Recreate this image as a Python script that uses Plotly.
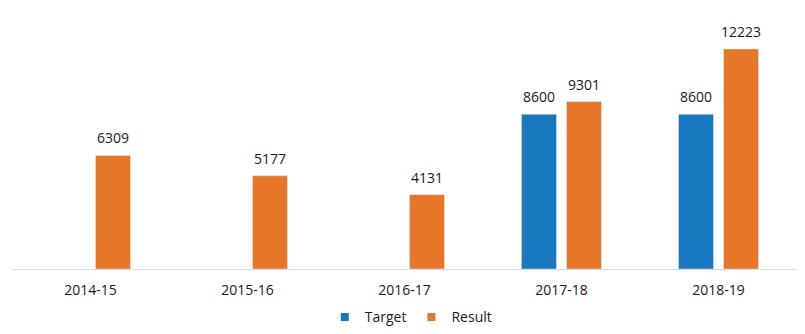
import plotly.graph_objects as go

categories = ["2014-15", "2015-16", "2016-17", "2017-18", "2018-19"]
target = [None, None, None, 8600, 8600]
result = [6309, 5177, 4131, 9301, 12223]

BLUE = "#1878BE"
ORANGE = "#E67628"
FONT = "Open Sans"
TXT = "#1a1a1a"

fig = go.Figure()
fig.add_trace(go.Bar(name="Target", x=categories, y=target, marker_color=BLUE, showlegend=False))
fig.add_trace(go.Bar(name="Result", x=categories, y=result, marker_color=ORANGE, showlegend=False))

# legend proxies with small square markers
fig.add_trace(go.Scatter(name="Target", x=[None], y=[None], mode="markers",
                         marker=dict(symbol="square", size=8, color=BLUE)))
fig.add_trace(go.Scatter(name="Result", x=[None], y=[None], mode="markers",
                         marker=dict(symbol="square", size=8, color=ORANGE)))

annotations = []
for series, shift in ((target, -22.5), (result, 22.5)):
    for c, v in zip(categories, series):
        if v is None:
            continue
        annotations.append(dict(x=c, y=v, xref="x", yref="y", text=str(v), showarrow=False,
                                xshift=shift, yanchor="bottom", yshift=6,
                                font=dict(family=FONT, size=14, color=TXT)))

fig.update_layout(
    width=805, height=334,
    margin=dict(l=12, r=8, t=17, b=65),
    paper_bgcolor="white", plot_bgcolor="white",
    barmode="group", bargap=0.427, bargroupgap=0.222,
    font=dict(family=FONT, size=14, color=TXT),
    annotations=annotations,
    showlegend=True,
    legend=dict(orientation="h", x=0.508, xanchor="center", yref="container", y=0.05, yanchor="middle",
                font=dict(family=FONT, size=14, color=TXT), itemwidth=30,
                tracegroupgap=0, bgcolor="rgba(0,0,0,0)"),
    xaxis=dict(showline=True, linecolor="#d9d9d9", linewidth=1, ticks="",
               showgrid=False, ticklabelstandoff=8, automargin=False,
               tickfont=dict(family=FONT, size=14, color=TXT)),
    yaxis=dict(range=[0, 14000], visible=False, showgrid=False, zeroline=False),
)

fig.write_html("out.html")
